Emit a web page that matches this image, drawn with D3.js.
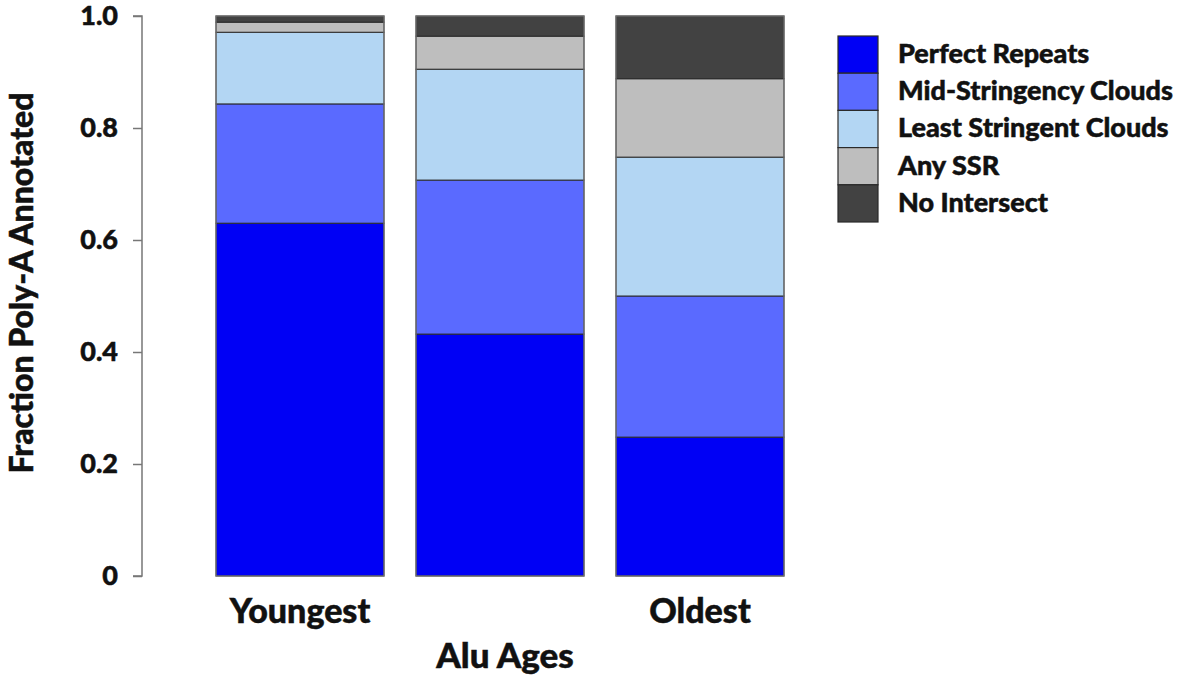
<!DOCTYPE html>
<html lang="en">
<head>
<meta charset="UTF-8">
<script src="https://d3js.org/d3.v7.min.js"></script>
<style>
  body { margin: 0; background: #fff; }
  text { font-family: Lato, "Open Sans", sans-serif; font-weight: 900; stroke: #111; stroke-width: 0.5px; }
</style>
</head>
<body>
<div class="canvas"></div>
<script>
const ages = ['Youngest', 'Middle', 'Oldest']
const ageLabels = ['Youngest', '', 'Oldest']
const seriesNames = ['Perfect Repeats', 'Mid-Stringency Clouds', 'Least Stringent Clouds', 'Any SSR', 'No Intersect']
const perfect = [0.630, 0.432, 0.248]
const midCloud = [0.213, 0.275, 0.252]
const leastCloud = [0.128, 0.198, 0.248]
const anySSR = [0.018, 0.059, 0.140]
const noIntersect = [0.011, 0.036, 0.112]
const yTicks = [0, 0.2, 0.4, 0.6, 0.8, 1.0]
const colors = ['#0000f5', '#5a6aff', '#b3d6f3', '#bebebe', '#424242']

const width = 1181, height = 685
const svg = d3.select('.canvas').append('svg')
  .attr('width', width).attr('height', height)

const series = [perfect, midCloud, leastCloud, anySSR, noIntersect]
const rows = ages.map((a, i) => {
  const r = { age: a }
  seriesNames.forEach((s, j) => { r[s] = series[j][i] })
  return r
})
const stacked = d3.stack().keys(seriesNames)(rows)

const x = d3.scaleBand().domain(ages).range([200, 800]).paddingInner(0.16).paddingOuter(0.08)
const y = d3.scaleLinear().domain([0, 1]).range([576, 16])

const layers = svg.append('g').selectAll('g').data(stacked).join('g')
  .attr('fill', (d, i) => colors[i])
layers.selectAll('rect').data(d => d).join('rect')
  .attr('x', d => x(d.data.age))
  .attr('width', x.bandwidth())
  .attr('y', d => y(d[1]))
  .attr('height', d => y(d[0]) - y(d[1]))
  .attr('stroke', '#2a2a2a')
  .attr('stroke-width', 1)

// outer bar borders
svg.append('g').selectAll('rect').data(ages).join('rect')
  .attr('x', d => x(d)).attr('width', x.bandwidth())
  .attr('y', y(1)).attr('height', y(0) - y(1))
  .attr('fill', 'none').attr('stroke', '#777').attr('stroke-width', 1.2)

const yAxis = d3.axisLeft(y).tickValues(yTicks)
  .tickFormat(d => d === 0 ? '0' : d3.format('.1f')(d))
  .tickSize(9).tickPadding(15)
const yAxisG = svg.append('g').attr('transform', 'translate(142,0)').call(yAxis)
yAxisG.selectAll('path, line').attr('stroke', '#777').attr('stroke-width', 1.5)
yAxisG.select('.domain').attr('d', `M-9,${y(1)}H0V${y(0)}H-9`)
yAxisG.selectAll('text').attr('fill', '#111').style('font-size', '27px')

svg.append('g').selectAll('text').data(ages).join('text')
  .attr('x', d => x(d) + x.bandwidth() / 2)
  .attr('y', 623)
  .attr('text-anchor', 'middle')
  .style('font-size', '34px')
  .attr('fill', '#111')
  .text((d, i) => ageLabels[i])

svg.append('text')
  .attr('x', 505).attr('y', 668)
  .attr('text-anchor', 'middle')
  .style('font-size', '35px').attr('fill', '#111')
  .text('Alu Ages')

svg.append('text')
  .attr('transform', 'translate(33,283) rotate(-90)')
  .attr('text-anchor', 'middle')
  .style('font-size', '32px').attr('fill', '#111')
  .text('Fraction Poly-A Annotated')

const legend = svg.append('g').attr('transform', 'translate(838,36)')
const item = legend.selectAll('g').data(seriesNames).join('g')
  .attr('transform', (d, i) => `translate(0,${i * 37.2})`)
item.append('rect')
  .attr('width', 40).attr('height', 37.2)
  .attr('fill', (d, i) => colors[i])
  .attr('stroke', '#2a2a2a').attr('stroke-width', 1.2)
item.append('text')
  .attr('x', 60).attr('y', 27)
  .style('font-size', '27px').attr('fill', '#111')
  .text(d => d)
</script>
</body>
</html>
